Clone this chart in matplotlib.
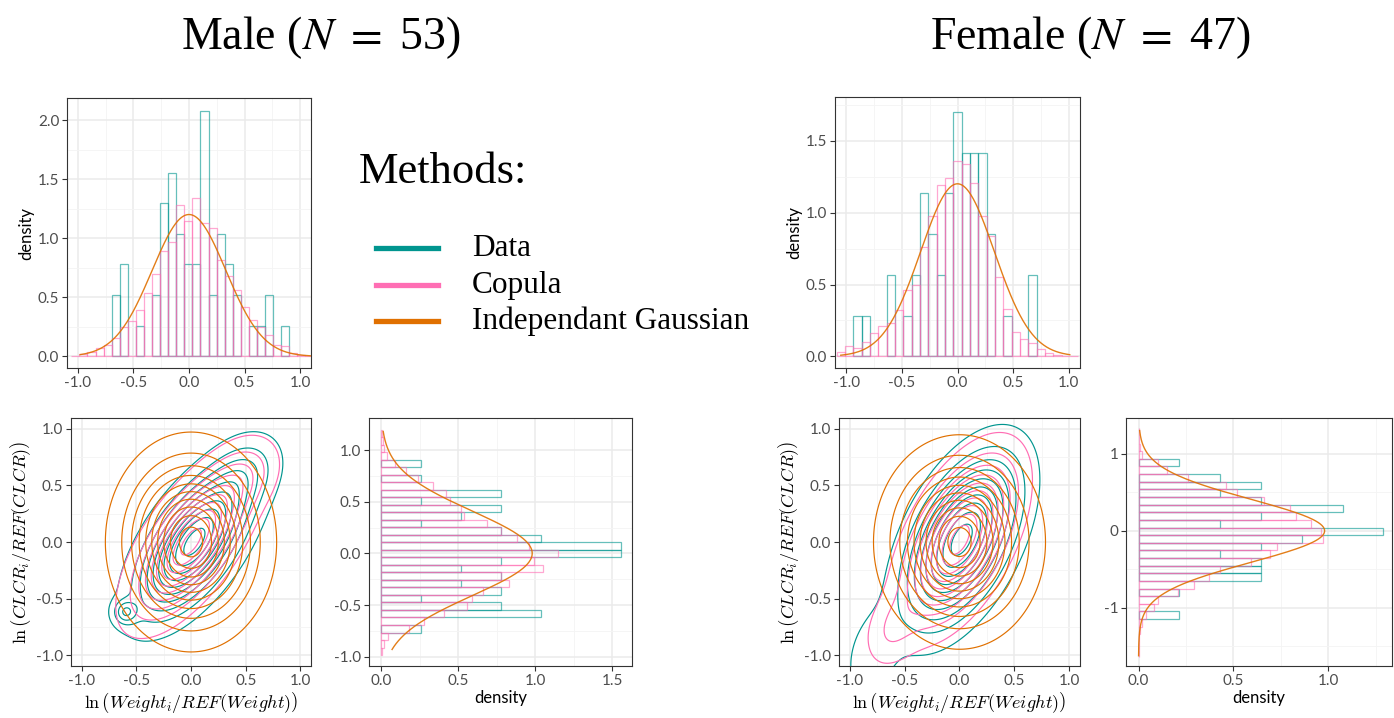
import numpy as np
import matplotlib
matplotlib.use("Agg")
import matplotlib.pyplot as plt
from matplotlib.lines import Line2D

plt.rcParams['font.family'] = ['Lato', 'DejaVu Sans']
plt.rcParams['mathtext.fontset'] = 'cm'
plt.rcParams['axes.unicode_minus'] = False

TEAL = '#00958F'
PINK = '#FF6EB4'
ORANGE = '#E07000'

# ---- top histograms: ln(Weight) ----
male_w_start, male_w_width = -1.06, 0.0727
male_w_data_counts = [0, 0, 0, 0, 0, 2, 3, 0, 1, 0, 2, 5, 6, 4, 3, 3, 8, 2, 4, 3, 2, 0, 1, 1, 2, 0, 1, 0, 0, 0]
male_w_copula = [0.005, 0.02, 0.04, 0.07, 0.10, 0.16, 0.25, 0.30, 0.39, 0.54, 0.70, 0.89, 0.97, 1.28, 1.15,
                 1.34, 1.13, 1.09, 0.82, 0.68, 0.56, 0.42, 0.31, 0.25, 0.18, 0.10, 0.09, 0.03, 0.01, 0.005]
female_w_start, female_w_width = -1.087, 0.075
female_w_data_counts = [0, 0, 1, 1, 0, 0, 2, 0, 1, 2, 4, 3, 2, 4, 6, 5, 5, 5, 3, 0, 1, 0, 0, 2, 0, 0, 0, 0, 0]
female_w_copula = [0.03, 0.07, 0.06, 0.10, 0.16, 0.21, 0.23, 0.32, 0.46, 0.50, 0.76, 0.98, 1.19, 1.24, 1.36,
                   1.34, 1.21, 0.98, 0.84, 0.55, 0.33, 0.17, 0.12, 0.09, 0.05, 0.02, 0.01, 0.005, 0.002]

# ---- right histograms: ln(CLCR) ----
male_c_start, male_c_width = -0.984, 0.0727
male_c_data_counts = [0, 0, 0, 1, 0, 4, 3, 1, 3, 2, 3, 2, 3, 6, 6, 4, 3, 1, 2, 3, 1, 3, 0, 1, 0, 1, 0, 0, 0, 0]
male_c_copula = [0.005, 0.02, 0.045, 0.18, 0.28, 0.41, 0.56, 0.59, 0.66, 0.83, 0.78, 1.05, 0.99, 1.15, 0.96,
                 0.88, 0.78, 0.69, 0.54, 0.52, 0.45, 0.42, 0.34, 0.24, 0.16, 0.09, 0.04, 0.02, 0.01, 0.005]
female_c_start, female_c_width = -1.64, 0.099
female_c_data_counts = [0, 0, 0, 0, 0, 1, 0, 0, 1, 0, 3, 3, 3, 2, 3, 4, 6, 2, 3, 5, 3, 2, 3, 2, 0, 1, 0, 0, 0, 0]
female_c_copula = [0.002, 0.003, 0.005, 0.01, 0.02, 0.04, 0.08, 0.10, 0.21, 0.29, 0.37, 0.43, 0.59, 0.69, 0.73,
                   0.97, 0.96, 0.91, 0.83, 0.80, 0.66, 0.52, 0.46, 0.26, 0.15, 0.10, 0.02, 0.01, 0.005, 0.003]

# independent gaussian marginals (mean, sd, drawn range)
male_w_gauss = (0.0, 0.332, -0.98, 1.12)
female_w_gauss = (0.0, 0.332, -1.05, 1.01)
male_c_gauss = (0.0, 0.407, -0.93, 1.18)
female_c_gauss = (0.0, 0.407, -1.62, 1.30)

# ---- 2D density summaries: (weight, mean_w, mean_c, sd_w, sd_c, rho) ----
male_data_2d = [(0.925, 0.03, 0.0, 0.30, 0.37, 0.62), (0.015, -0.6, -0.62, 0.07, 0.07, 0.0),
                (0.06, 0.5, 0.62, 0.2, 0.2, 0.3)]
male_copula_2d = [(0.94, 0.0, 0.0, 0.29, 0.36, 0.66), (0.06, 0.5, 0.6, 0.2, 0.2, 0.3)]
male_indep_2d = [(1.0, 0.0, 0.0, 0.33, 0.41, 0.0)]
female_data_2d = [(0.96, 0.02, 0.02, 0.30, 0.43, 0.52), (0.04, -0.8, -1.0, 0.15, 0.25, 0.3)]
female_copula_2d = [(0.96, 0.0, 0.02, 0.28, 0.40, 0.55), (0.04, -0.62, -0.78, 0.15, 0.2, 0.3)]
female_indep_2d = [(1.0, 0.0, 0.0, 0.33, 0.40, 0.0)]

N_male, N_female = 53, 47

W, H = 1394, 718
fig = plt.figure(figsize=(W / 100, H / 100), dpi=100)


def add_ax(left, right, top, bottom):
    return fig.add_axes([left / W, 1 - bottom / H, (right - left) / W, (bottom - top) / H])


def style(ax, xmaj, ymaj, xmin, ymin):
    ax.set_xticks(xmaj)
    ax.set_yticks(ymaj)
    ax.set_xticks(xmin, minor=True)
    ax.set_yticks(ymin, minor=True)
    ax.grid(True, which='major', color='#EBEBEB', lw=1.1, zorder=0)
    ax.grid(True, which='minor', color='#F4F4F4', lw=0.6, zorder=0)
    ax.set_axisbelow(True)
    for s in ax.spines.values():
        s.set_color('#333333')
        s.set_linewidth(0.8)
    ax.tick_params(which='major', length=3.5, width=0.8, color='#333333', labelsize=11,
                   labelcolor='#4D4D4D', pad=2)
    ax.tick_params(which='minor', length=0)


def gauss(mu, sd, lo, hi):
    t = np.linspace(lo, hi, 300)
    return t, np.exp(-0.5 * ((t - mu) / sd) ** 2) / (sd * np.sqrt(2 * np.pi))


def hist_top(ax, start, width, counts, n, copula, g):
    edges = start + width * np.arange(len(counts))
    dens = np.array(counts) / (n * width)
    m = dens > 0
    ax.bar(edges[m], dens[m], width=width, align='edge', fill=False, edgecolor=TEAL,
           lw=0.9, alpha=0.6, zorder=2)
    edges_c = start + width * np.arange(len(copula))
    ax.bar(edges_c, copula, width=width, align='edge', fill=False, edgecolor=PINK,
           lw=0.9, alpha=0.6, zorder=3)
    t, y = gauss(*g)
    ax.plot(t, y, color=ORANGE, lw=1.0, alpha=0.9, zorder=4)
    ax.set_ylabel('density', fontsize=12, labelpad=3)


def hist_right(ax, start, width, counts, n, copula, g):
    edges = start + width * np.arange(len(counts))
    dens = np.array(counts) / (n * width)
    m = dens > 0
    ax.barh(edges[m], dens[m], height=width, align='edge', fill=False, edgecolor=TEAL,
            lw=0.9, alpha=0.6, zorder=2)
    edges_c = start + width * np.arange(len(copula))
    ax.barh(edges_c, copula, height=width, align='edge', fill=False, edgecolor=PINK,
            lw=0.9, alpha=0.6, zorder=3)
    t, y = gauss(*g)
    ax.plot(y, t, color=ORANGE, lw=1.0, alpha=0.9, zorder=4)
    ax.set_xlabel('density', fontsize=12, labelpad=2)


def mix_density(X, Y, comps):
    Z = np.zeros_like(X)
    for w, mx, my, sx, sy, r in comps:
        dx = (X - mx) / sx
        dy = (Y - my) / sy
        q = (dx ** 2 - 2 * r * dx * dy + dy ** 2) / (1 - r ** 2)
        Z += w * np.exp(-0.5 * q) / (2 * np.pi * sx * sy * np.sqrt(1 - r ** 2))
    return Z


def contours(ax, data, cop, ind):
    g = np.linspace(-1.3, 1.3, 320)
    X, Y = np.meshgrid(g, g)
    for comps, col, lo in [(data, TEAL, 0.06), (cop, PINK, 0.06), (ind, ORANGE, 0.06)]:
        Z = mix_density(X, Y, comps)
        lv = np.linspace(lo, 0.95, 10) * Z.max()
        ax.contour(X, Y, Z, levels=lv, colors=col, linewidths=0.85, zorder=3)
    ax.set_xlabel(r'$\ln\left(Weight_i/REF(Weight)\right)$', fontsize=13, labelpad=2)
    ax.set_ylabel(r'$\ln\left(CLCR_i/REF(CLCR)\right)$', fontsize=13, labelpad=2)


xt = [-1.0, -0.5, 0.0, 0.5, 1.0]
xm = [-0.75, -0.25, 0.25, 0.75]

# ---- Male ----
ax = add_ax(67, 311, 98, 368)
hist_top(ax, male_w_start, male_w_width, male_w_data_counts, N_male, male_w_copula, male_w_gauss)
ax.set_xlim(-1.099, 1.099)
ax.set_ylim(-0.098, 2.188)
style(ax, xt, [0, 0.5, 1.0, 1.5, 2.0], xm, [0.25, 0.75, 1.25, 1.75])
ax.set_yticklabels(['0.0', '0.5', '1.0', '1.5', '2.0'])

ax = add_ax(71, 311, 418, 666)
contours(ax, male_data_2d, male_copula_2d, male_indep_2d)
ax.set_xlim(-1.097, 1.097)
ax.set_ylim(-1.097, 1.097)
style(ax, xt, xt, xm, xm)

ax = add_ax(369, 632, 418, 666)
hist_right(ax, male_c_start, male_c_width, male_c_data_counts, N_male, male_c_copula, male_c_gauss)
ax.set_xlim(-0.0775, 1.627)
ax.set_ylim(-1.09, 1.31)
style(ax, [0, 0.5, 1.0, 1.5], xt, [0.25, 0.75, 1.25], xm)
ax.set_xticklabels(['0.0', '0.5', '1.0', '1.5'])

# ---- Female ----
ax = add_ax(835, 1080, 97, 368)
hist_top(ax, female_w_start, female_w_width, female_w_data_counts, N_female, female_w_copula, female_w_gauss)
ax.set_xlim(-1.102, 1.102)
ax.set_ylim(-0.081, 1.806)
style(ax, xt, [0, 0.5, 1.0, 1.5], xm, [0.25, 0.75, 1.25, 1.75])
ax.set_yticklabels(['0.0', '0.5', '1.0', '1.5'])

ax = add_ax(839, 1080, 418, 666)
contours(ax, female_data_2d, female_copula_2d, female_indep_2d)
ax.set_xlim(-1.097, 1.097)
ax.set_ylim(-1.097, 1.097)
style(ax, xt, xt, xm, xm)

ax = add_ax(1126, 1392, 418, 666)
hist_right(ax, female_c_start, female_c_width, female_c_data_counts, N_female, female_c_copula, female_c_gauss)
ax.set_xlim(-0.066, 1.335)
ax.set_ylim(-1.753, 1.463)
style(ax, [0, 0.5, 1.0], [-1, 0, 1], [0.25, 0.75, 1.25], [-1.5, -0.5, 0.5])
ax.set_xticklabels(['0.0', '0.5', '1.0'])
ax.set_yticklabels(['-1', '0', '1'])

# ---- titles ----
fig.text(321 / W, 1 - 38 / H, r'Male ($N\ =$ %d)' % N_male, ha='center', va='center', fontsize=33,
         family='Liberation Serif', math_fontfamily='stix')
fig.text(1090 / W, 1 - 38 / H, r'Female ($N\ =$ %d)' % N_female, ha='center', va='center', fontsize=33,
         family='Liberation Serif', math_fontfamily='stix')

# ---- legend ----
fig.text(359 / W, 1 - 172 / H, 'Methods:', ha='left', va='center', fontsize=32, family='Liberation Serif')
for lab, col, yp in [('Data', TEAL, 248), ('Copula', PINK, 285), ('Independant Gaussian', ORANGE, 321)]:
    fig.add_artist(Line2D([376 / W, 438 / W], [1 - yp / H, 1 - yp / H], color=col, lw=3.8,
                          transform=fig.transFigure))
    fig.text(472 / W, 1 - yp / H, lab, ha='left', va='center', fontsize=22.5, family='Liberation Serif')

fig.savefig('out.png', dpi=100)
